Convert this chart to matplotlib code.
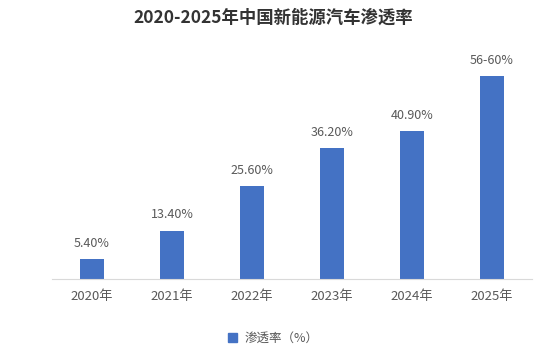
import matplotlib
matplotlib.use("Agg")
import matplotlib.pyplot as plt
from matplotlib.patches import Patch

plt.rcParams['font.family'] = ['Noto Sans CJK SC', 'DejaVu Sans']

years = ['2020年', '2021年', '2022年', '2023年', '2024年', '2025年']
rates = [5.4, 13.4, 25.6, 36.2, 40.9, 56.0]
labels = ['5.40%', '13.40%', '25.60%', '36.20%', '40.90%', '56-60%']

fig = plt.figure(figsize=(5.47, 3.58), dpi=100)
ax = fig.add_axes([0.095, 0.2207, 0.8776, 0.667])

x = range(len(years))
bars = ax.bar(x, rates, width=0.31, color='#4472C4')
for b, lab in zip(bars, labels):
    ax.text(b.get_x() + b.get_width() / 2, b.get_height() + 2.6, lab,
            ha='center', va='bottom', fontsize=9, color='#595959')

ax.set_xlim(-0.5, 5.5)
ax.set_ylim(0, 66)
ax.set_xticks(list(x))
ax.set_xticklabels(years, fontsize=9.5, color='#595959')
ax.tick_params(axis='x', length=0, pad=8)
ax.set_yticks([])
for s in ['top', 'right', 'left']:
    ax.spines[s].set_visible(False)
ax.spines['bottom'].set_color('#D9D9D9')

fig.text(0.5, 0.95, '2020-2025年中国新能源汽车渗透率', ha='center', va='center',
         fontsize=12.5, fontweight='bold', color='#333333')

fig.legend(handles=[Patch(color='#4472C4', label='渗透率（%）')],
           loc='center', bbox_to_anchor=(0.5, 0.055), frameon=False,
           fontsize=9, handlelength=0.7, handleheight=0.7, handletextpad=0.6,
           labelcolor='#595959')

fig.savefig('out.png', dpi=100)
